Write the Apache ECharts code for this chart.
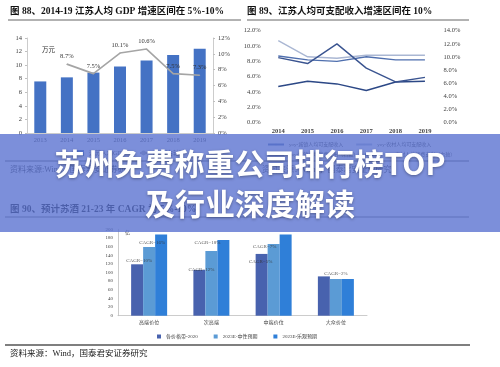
<!DOCTYPE html>
<html><head><meta charset="utf-8">
<script src="https://cdn.jsdelivr.net/npm/echarts@6/dist/echarts.min.js"></script>
<style>html,body{margin:0;padding:0;background:#fff}#c{width:500px;height:367px}</style>
</head><body><div id="c"></div>
<script>
// ---- Chart 1 data ----
const years1 = ['2013','2014','2015','2016','2017','2018','2019'];
const gdpPerCapita = [7.6, 8.2, 8.9, 9.8, 10.7, 11.5, 12.4];
const gdpYoy = ['-', 8.7, 7.5, 10.1, 10.6, 7.5, 7.3];
const left1Ticks = {min:0, max:14, interval:2};
const right1Ticks = {min:0, max:12, interval:2};
// ---- Chart 2 data ----
const years2 = ['2014','2015','2016','2017','2018','2019'];
const urbanIncomeYoy = [8.7, 8.2, 8.0, 8.6, 8.2, 8.2];
const ruralIncomeYoy = [10.7, 8.6, 8.4, 8.8, 8.8, 8.8];
const urbanConsYoy = [5.5, 6.3, 5.9, 4.9, 6.2, 6.3];
const ruralConsYoy = [9.9, 9.0, 12.0, 8.3, 6.2, 6.9];
const left2Ticks = {min:0, max:12, interval:2};
const right2Ticks = {min:0, max:14, interval:2};
// ---- Chart 3 data ----
const segments = ['高端价位','次高端','中端价位','大众价位'];
const seg2020 = [119, 106, 143, 91];
const seg2023Neutral = [159, 150, 166, 85];
const seg2023Optim = [188, 175, 188, 85];
const cagrNotes = [
  {seg:'高端价位', v:127, text:'CAGR=10%', dx:-10},
  {seg:'高端价位', v:170, text:'CAGR=16%', dx:3},
  {seg:'次高端', v:168, text:'CAGR=18%', dx:-4},
  {seg:'次高端', v:106, text:'CAGR=12%', dx:-10},
  {seg:'中端价位', v:159, text:'CAGR=7%', dx:-9},
  {seg:'中端价位', v:124, text:'CAGR=5%', dx:-13},
  {seg:'大众价位', v:97, text:'CAGR=2%', dx:0}
];
const left3Ticks = {min:0, max:200, interval:20};

const SERIF = "'Liberation Serif','Noto Sans CJK SC',serif";
const axisTxt = {fontFamily:SERIF, fontSize:6.5, color:'#404040'};
const lineC = {lineStyle:{color:'#bfbfbf', width:0.8}};

const chart = echarts.init(document.getElementById('c'), null, {renderer:'canvas'});
const option = {
  backgroundColor:'#fff',
  animation:false,
  grid:[
    {left:27, right:287, top:38, bottom:234},
    {left:263.6, right:60.4, top:30.7, bottom:244.3},
    {left:118, right:133, top:229.3, bottom:51.3}
  ],
  xAxis:[
    {gridIndex:0, type:'category', data:years1, axisLine:lineC, axisTick:{show:false},
     axisLabel:Object.assign({margin:4}, axisTxt)},
    {gridIndex:1, type:'category', data:years2, axisLine:{show:false}, axisTick:{show:false},
     axisLabel:Object.assign({margin:5, fontWeight:'bold'}, axisTxt)},
    {gridIndex:2, type:'category', data:segments, axisLine:lineC, axisTick:{show:false},
     axisLabel:{margin:4, fontSize:5, color:'#404040', fontFamily:SERIF}}
  ],
  yAxis:[
    Object.assign({gridIndex:0, type:'value', splitLine:{show:false}, axisLine:Object.assign({show:true},lineC),
     axisTick:{show:true, length:2, lineStyle:{color:'#bfbfbf'}}, axisLabel:Object.assign({margin:5}, axisTxt)}, left1Ticks),
    Object.assign({gridIndex:0, type:'value', position:'right', splitLine:{show:false}, axisLine:Object.assign({show:true},lineC),
     axisTick:{show:true, length:2, lineStyle:{color:'#bfbfbf'}}, axisLabel:Object.assign({margin:5, formatter:'{value}%'}, axisTxt)}, right1Ticks),
    Object.assign({gridIndex:1, type:'value', splitLine:{show:false}, axisLine:{show:false}, axisTick:{show:false},
     axisLabel:Object.assign({margin:3, formatter:v=>v.toFixed(1)+'%'}, axisTxt)}, left2Ticks),
    Object.assign({gridIndex:1, type:'value', position:'right', splitLine:{show:false}, axisLine:{show:false}, axisTick:{show:false},
     axisLabel:Object.assign({margin:4, formatter:v=>v.toFixed(1)+'%'}, axisTxt)}, right2Ticks),
    Object.assign({gridIndex:2, type:'value', splitLine:{show:false}, axisLine:Object.assign({show:true},lineC), axisTick:{show:false},
     axisLabel:{margin:5, fontSize:5, color:'#404040', fontFamily:SERIF}}, left3Ticks)
  ],
  legend:[
    {left:72, top:145, itemWidth:7, itemHeight:6, itemGap:14, textStyle:{fontSize:6, color:'#404040', fontFamily:SERIF},
     data:[{name:'江苏人均GDP', icon:'rect'}, {name:'yoy（右轴）'}]},
    {left:262, top:137, itemWidth:16, itemHeight:2, itemGap:12, textStyle:{fontSize:5, color:'#404040', fontFamily:SERIF},
     data:['yoy-城镇人均可支配收入','yoy-农村人均可支配收入']},
    {left:262, top:147, itemWidth:16, itemHeight:2, itemGap:6, textStyle:{fontSize:5, color:'#404040', fontFamily:SERIF},
     data:['yoy-城镇人均消费支出（右轴）','yoy-农村人均消费支出（右轴）']},
    {left:152, top:329, itemWidth:4, itemHeight:4, itemGap:16, textStyle:{fontSize:5, color:'#404040', fontFamily:SERIF},
     data:[{name:'各价格带-2020',icon:'rect'},{name:'2023E-中性预期',icon:'rect'},{name:'2023E-乐观预期',icon:'rect'}]}
  ],
  series:[
    {name:'江苏人均GDP', type:'bar', xAxisIndex:0, yAxisIndex:0, data:gdpPerCapita, barWidth:12,
     itemStyle:{color:'#4472c4'}},
    {name:'yoy（右轴）', type:'line', xAxisIndex:0, yAxisIndex:1, data:gdpYoy, symbol:'circle', symbolSize:1, showSymbol:true,
     lineStyle:{color:'#a5a5a5', width:1.6}, itemStyle:{color:'#a5a5a5'},
     label:{show:true, position:'top', distance:4, formatter:p=>(typeof p.value==='number' ? p.value.toFixed(1)+'%' : ''), fontSize:6.5, color:'#333', fontFamily:SERIF}},
    {name:'yoy-城镇人均可支配收入', type:'line', xAxisIndex:1, yAxisIndex:2, data:urbanIncomeYoy, symbol:'none',
     lineStyle:{color:'#4f6fae', width:1.4}, itemStyle:{color:'#4f6fae'}},
    {name:'yoy-农村人均可支配收入', type:'line', xAxisIndex:1, yAxisIndex:2, data:ruralIncomeYoy, symbol:'none',
     lineStyle:{color:'#aab7d3', width:1.4}, itemStyle:{color:'#aab7d3'}},
    {name:'yoy-城镇人均消费支出（右轴）', type:'line', xAxisIndex:1, yAxisIndex:3, data:urbanConsYoy, symbol:'none',
     lineStyle:{color:'#2c4886', width:1.4}, itemStyle:{color:'#2c4886'}},
    {name:'yoy-农村人均消费支出（右轴）', type:'line', xAxisIndex:1, yAxisIndex:3, data:ruralConsYoy, symbol:'none',
     lineStyle:{color:'#3a5490', width:1.4}, itemStyle:{color:'#3a5490'}},
    {name:'各价格带-2020', type:'bar', xAxisIndex:2, yAxisIndex:4, data:seg2020, barWidth:12, barGap:'0%',
     itemStyle:{color:'#4862ae'}},
    {name:'2023E-中性预期', type:'bar', xAxisIndex:2, yAxisIndex:4, data:seg2023Neutral, barWidth:12, barGap:'0%',
     itemStyle:{color:'#5b9bd5'}},
    {name:'2023E-乐观预期', type:'bar', xAxisIndex:2, yAxisIndex:4, data:seg2023Optim, barWidth:12, barGap:'0%',
     itemStyle:{color:'#2f7fd8'}},
    {name:'cagr', type:'scatter', xAxisIndex:2, yAxisIndex:4, symbolSize:0, z:5,
     data:cagrNotes.map(n=>({value:[n.seg, n.v], label:{show:true, position:'inside', offset:[n.dx,0], formatter:n.text,
       fontSize:5, color:'#333', fontFamily:SERIF}}))}
  ],
  graphic:[
    {type:'text', x:10, y:12, style:{text:'图 88、2014-19 江苏人均 GDP 增速区间在 5%-10%', fontSize:9.5, fontWeight:'bold', fontFamily:SERIF, fill:'#111', verticalAlign:'middle'}},
    {type:'text', x:247, y:12, style:{text:'图 89、江苏人均可支配收入增速区间在 10%', fontSize:9.5, fontWeight:'bold', fontFamily:SERIF, fill:'#111', verticalAlign:'middle'}},
    {type:'line', shape:{x1:8,y1:20,x2:241,y2:20}, style:{stroke:'#666', lineWidth:1}},
    {type:'line', shape:{x1:247,y1:20,x2:469,y2:20}, style:{stroke:'#666', lineWidth:1}},
    {type:'text', x:42, y:50, style:{text:'万元', fontSize:6.5, fontFamily:SERIF, fill:'#333', verticalAlign:'middle'}},
    {type:'line', shape:{x1:5,y1:161,x2:469,y2:161}, style:{stroke:'#555', lineWidth:1.2}},
    {type:'text', x:10, y:170, style:{text:'资料来源:Wind，国泰君安证券研究', fontSize:8, fontFamily:SERIF, fill:'#333', verticalAlign:'middle'}},
    {type:'text', x:262, y:170, style:{text:'资料来源：Wind，国泰君安证券研究', fontSize:8, fontFamily:SERIF, fill:'#333', verticalAlign:'middle'}},
    {type:'text', x:10, y:210, style:{text:'图 90、预计苏酒 21-23 年 CAGR 为 5%-10%', fontSize:9.5, fontWeight:'bold', fontFamily:SERIF, fill:'#111', verticalAlign:'middle'}},
    {type:'line', shape:{x1:5,y1:217,x2:469,y2:217}, style:{stroke:'#666', lineWidth:1}},
    {type:'text', x:125, y:233, style:{text:'亿', fontSize:5, fontFamily:SERIF, fill:'#333', verticalAlign:'middle'}},
    {type:'line', shape:{x1:5,y1:345,x2:470,y2:345}, style:{stroke:'#555', lineWidth:1.4}},
    {type:'text', x:10, y:354, style:{text:'资料来源：Wind，国泰君安证券研究', fontSize:8.5, fontFamily:SERIF, fill:'#222', verticalAlign:'middle'}},
    {type:'rect', z:100, shape:{x:0,y:134,width:500,height:98}, style:{fill:'rgba(91,115,209,0.8)'}},
    {type:'text', z:101, x:250, y:164, style:{text:'苏州免费称重公司排行榜TOP', fontSize:30, fontWeight:'bold', fontFamily:"'Noto Sans CJK SC','Noto Sans',sans-serif", fill:'#fff', align:'center', verticalAlign:'middle', textShadowColor:'rgba(0,0,0,0.35)', textShadowBlur:3, textShadowOffsetY:1}},
    {type:'text', z:101, x:250, y:204, style:{text:'及行业深度解读', fontSize:30, fontWeight:'bold', fontFamily:"'Noto Sans CJK SC','Noto Sans',sans-serif", fill:'#fff', align:'center', verticalAlign:'middle', textShadowColor:'rgba(0,0,0,0.35)', textShadowBlur:3, textShadowOffsetY:1}}
  ]
};
chart.setOption(option);
</script></body></html>
